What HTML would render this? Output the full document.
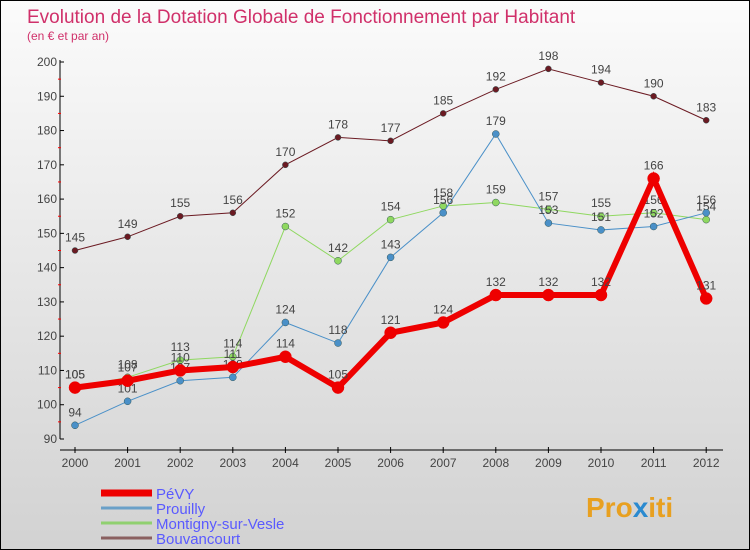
<!DOCTYPE html>
<html><head><meta charset="utf-8"><style>
body{margin:0}
#c{position:relative;width:748px;height:548px;border:1px solid #000;background:linear-gradient(#fbfbfb,#d2d2d2);font-family:"Liberation Sans",sans-serif;overflow:hidden}
</style></head><body>
<div id="c">
<svg id="s" width="748" height="548" style="position:absolute;left:0;top:0">
<text x="26" y="22" font-size="19" fill="#d0306a">Evolution de la Dotation Globale de Fonctionnement par Habitant</text>
<text x="26" y="39" font-size="12" fill="#d0306a">(en € et par an)</text>
<g id="axes"></g><g id="series"></g><g id="legend"></g>
<text x="585" y="516" font-size="28" font-weight="bold" fill="#e8a020">Pro<tspan fill="#2a8ad0">x</tspan>iti</text>
</svg>
</div>
<script>
const years=[2000,2001,2002,2003,2004,2005,2006,2007,2008,2009,2010,2011,2012];
const yTicks=[90,100,110,120,130,140,150,160,170,180,190,200];
const pevy=[105,107,110,111,114,105,121,124,132,132,132,166,131];
const prouilly=[94,101,107,108,124,118,143,156,179,153,151,152,156];
const montigny=[105,108,113,114,152,142,154,158,159,157,155,156,154];
const bouvancourt=[145,149,155,156,170,178,177,185,192,198,194,190,183];
const NS="http://www.w3.org/2000/svg";
function X(i){return 74+i*52.6;}
function Y(v){return 438-(v-90)*(377/110);}
function mk(tag,attrs,parent){const e=document.createElementNS(NS,tag);for(const k in attrs)e.setAttribute(k,attrs[k]);parent.appendChild(e);return e;}
const ax=document.getElementById('axes');
let a=mk('line',{x1:59,y1:Y(200)-2,x2:59,y2:Y(90),stroke:'#000','stroke-width':1},ax);


a=mk('line',{x1:59,y1:449,x2:722,y2:449,stroke:'#000','stroke-width':1},ax);


yTicks.forEach((v,i)=>{
 mk('line',{x1:59,y1:Y(v),x2:63,y2:Y(v),stroke:'#000'},ax);
 if(i<yTicks.length-1)mk('line',{x1:57,y1:Y(v+5),x2:60,y2:Y(v+5),stroke:'#f00'},ax);
 const t=mk('text',{x:56,y:Y(v)+4,'font-size':12,'text-anchor':'end',fill:'#444'},ax);t.textContent=v;
 
 
});
years.forEach((y,i)=>{
 mk('line',{x1:X(i),y1:446,x2:X(i),y2:452,stroke:'#000'},ax);
 const t=mk('text',{x:X(i),y:466,'font-size':12,'text-anchor':'middle',fill:'#444'},ax);t.textContent=y;
 
 
});
const series=[
 {name:'bouvancourt',label:'Bouvancourt',data:bouvancourt,c:'#6b1a22',lc:'#8a6060',w:1,r:3},
 {name:'montigny',label:'Montigny-sur-Vesle',data:montigny,c:'#8fd860',lc:'#90d070',w:1,r:3.5},
 {name:'prouilly',label:'Prouilly',data:prouilly,c:'#4a90c8',lc:'#6aa0c8',w:1,r:3.5},
 {name:'pevy',label:'PéVY',data:pevy,c:'#ee0000',lc:'#ee0000',w:6,r:6}
];
const sg=document.getElementById('series');
series.forEach(s=>{
 const g=mk('g',{},sg);
 
 
 const p=mk('polyline',{points:s.data.map((v,i)=>X(i)+','+Y(v)).join(' '),fill:'none',stroke:s.c,'stroke-width':s.w},g);
 
 
 s.data.forEach((v,i)=>{
  const c=mk('circle',{cx:X(i),cy:Y(v),r:s.r,fill:s.c,stroke:s.w>1?s.c:'#355',"stroke-width":0.5},g);
  
  
  const t=mk('text',{x:X(i),y:Y(v)-9,'font-size':12,'text-anchor':'middle',fill:'#444'},g);t.textContent=v;
  
  
 });
});
const lg=document.getElementById('legend');
const order=[series[3],series[2],series[1],series[0]];
order.forEach((s,i)=>{
 const y=492+i*15;
 const l=mk('line',{x1:100,y1:y,x2:151,y2:y,stroke:s.lc,'stroke-width':s.w>1?7:3},lg);
 
 
 const t=mk('text',{x:155,y:y+6,'font-size':15,fill:'#5a5aff'},lg);t.textContent=s.label;
 
 
});
</script>
</body></html>
